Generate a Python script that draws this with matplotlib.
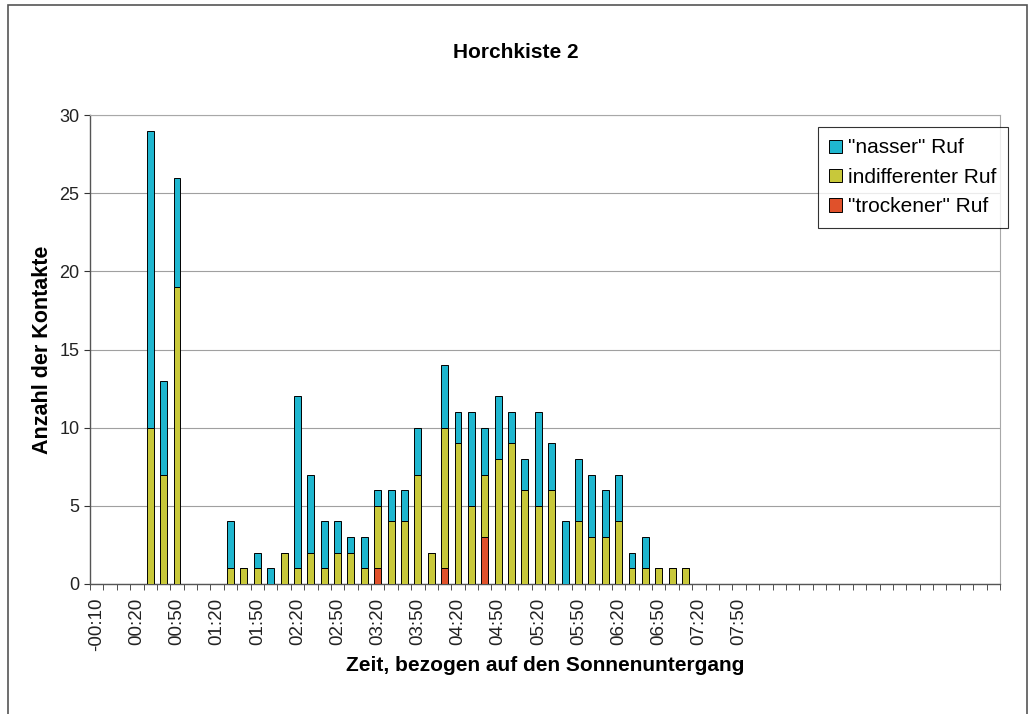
import numpy as np
import matplotlib
matplotlib.use("Agg")
import matplotlib.pyplot as plt
from matplotlib.patches import Rectangle

plt.rcParams['font.family'] = ['Liberation Sans', 'DejaVu Sans']

# Kategorien: -00:10 bis 11:00 in 10-Minuten-Schritten
n_kat = 68
minuten = [-10 + 10 * i for i in range(n_kat)]

# Werte je Kategorie (Index 0 = -00:10)
nass = [0] * n_kat
indiff = [0] * n_kat
trocken = [0] * n_kat

werte = {
    # idx: (trocken, indifferent, nass)
    4: (0, 10, 19), 5: (0, 7, 6), 6: (0, 19, 7),
    10: (0, 1, 3), 11: (0, 1, 0), 12: (0, 1, 1), 13: (0, 0, 1),
    14: (0, 2, 0), 15: (0, 1, 11), 16: (0, 2, 5), 17: (0, 1, 3),
    18: (0, 2, 2), 19: (0, 2, 1), 20: (0, 1, 2), 21: (1, 4, 1),
    22: (0, 4, 2), 23: (0, 4, 2), 24: (0, 7, 3), 25: (0, 2, 0),
    26: (1, 9, 4), 27: (0, 9, 2), 28: (0, 5, 6), 29: (3, 4, 3),
    30: (0, 8, 4), 31: (0, 9, 2), 32: (0, 6, 2), 33: (0, 5, 6),
    34: (0, 6, 3), 35: (0, 0, 4), 36: (0, 4, 4), 37: (0, 3, 4),
    38: (0, 3, 3), 39: (0, 4, 3), 40: (0, 1, 1), 41: (0, 1, 2),
    42: (0, 1, 0), 43: (0, 1, 0), 44: (0, 1, 0),
}
for i, (t, d, n) in werte.items():
    trocken[i], indiff[i], nass[i] = t, d, n

trocken = np.array(trocken)
indiff = np.array(indiff)
nass = np.array(nass)


def zeit_label(m):
    s = "-" if m < 0 else ""
    m = abs(m)
    return f"{s}{m // 60:02d}:{m % 60:02d}"


label_idx = list(range(0, 49, 3))
labels = [zeit_label(minuten[i]) for i in label_idx]

farbe_nass = "#1fb6cf"
farbe_indiff = "#c8c83a"
farbe_trocken = "#e0512b"

fig = plt.figure(figsize=(10.31, 7.14), dpi=100)
ax = fig.add_axes([90 / 1031, 1 - 584 / 714, 910 / 1031, 469 / 714])

x = np.arange(n_kat)
b = 0.52
ax.bar(x, trocken, b, color=farbe_trocken, edgecolor="black", linewidth=0.7,
       label='"trockener" Ruf', zorder=3)
ax.bar(x, indiff, b, bottom=trocken, color=farbe_indiff, edgecolor="black",
       linewidth=0.7, label="indifferenter Ruf", zorder=3)
ax.bar(x, nass, b, bottom=trocken + indiff, color=farbe_nass, edgecolor="black",
       linewidth=0.7, label='"nasser" Ruf', zorder=3)

ax.set_xlim(-0.5, n_kat - 0.5)
ax.set_ylim(0, 30)
ax.set_yticks(range(0, 31, 5))
ax.yaxis.grid(True, color="#a0a0a0", linewidth=0.8, zorder=0)
ax.tick_params(axis="y", labelsize=13, length=4, direction="out", colors="#333333",
               labelcolor="#222222")

ax.set_xticks(np.arange(-0.5, n_kat, 1), minor=True)
ax.set_xticks(label_idx)
ax.set_xticklabels(labels, rotation=90, fontsize=13.5, color="#222222")
ax.tick_params(axis="x", which="major", length=0, pad=10)
ax.tick_params(axis="x", which="minor", length=4, color="#333333")

for s in ["left", "bottom"]:
    ax.spines[s].set_color("#555555")
    ax.spines[s].set_linewidth(1.0)
for s in ["top", "right"]:
    ax.spines[s].set_color("#a8a8a8")
    ax.spines[s].set_linewidth(0.8)

ax.set_ylabel("Anzahl der Kontakte", fontsize=15.5, fontweight="bold", labelpad=5)
ax.set_xlabel("Zeit, bezogen auf den Sonnenuntergang", fontsize=15,
              fontweight="bold", labelpad=3)
fig.text(0.5, 1 - 53 / 714, "Horchkiste 2", ha="center", va="center",
         fontsize=15, fontweight="bold")

h, l = ax.get_legend_handles_labels()
leg = ax.legend(h[::-1], l[::-1], loc="upper right", bbox_to_anchor=(1008 / 1031, 1 - 127 / 714),
                bbox_transform=fig.transFigure, fontsize=15, frameon=True,
                fancybox=False, edgecolor="black", handlelength=0.6,
                handleheight=0.6, handletextpad=0.3, labelspacing=0.5,
                borderpad=0.55, borderaxespad=0)
leg.get_frame().set_linewidth(0.8)

# Rahmen um das Diagramm
fig.patches.append(Rectangle((8 / 1031, -0.01), 1019 / 1031, 1 - 5 / 714 + 0.01,
                             transform=fig.transFigure, fill=False,
                             edgecolor="#555555", linewidth=1.2))

fig.savefig("out.png", dpi=100)
